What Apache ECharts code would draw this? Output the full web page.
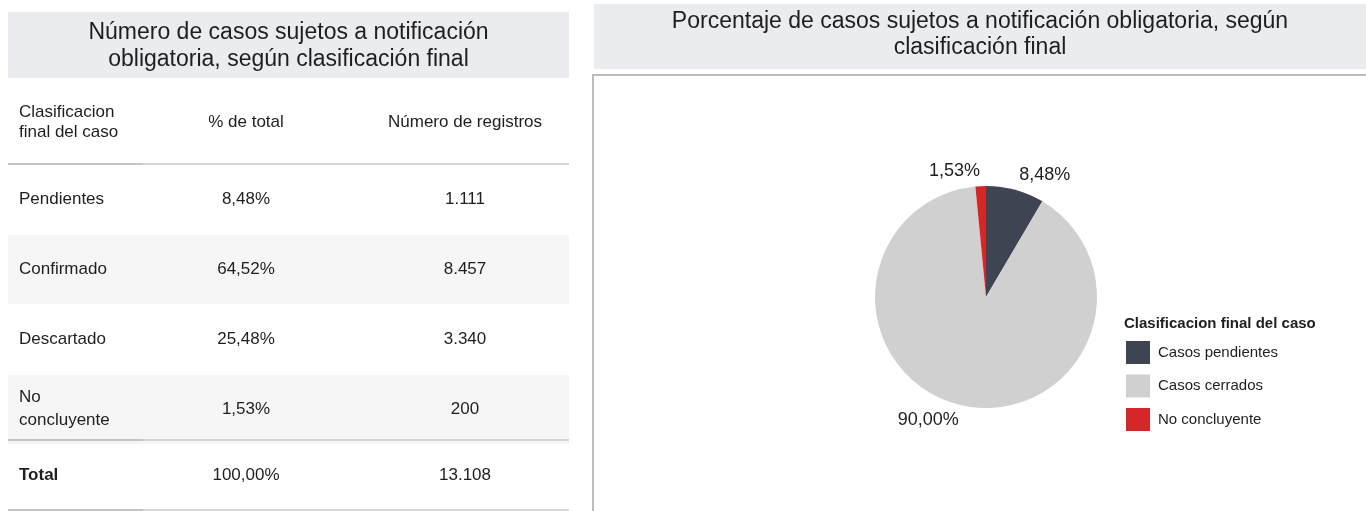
<!DOCTYPE html>
<html>
<head>
<meta charset="utf-8">
<script src="https://cdn.jsdelivr.net/npm/echarts@6/dist/echarts.min.js"></script>
<style>
  html, body { margin: 0; padding: 0; background: #fff; }
  #main { width: 1366px; height: 511px; }
</style>
</head>
<body>
<div id="main"></div>
<script>
// datos de la tabla y del grafico
var tableTitle = 'Número de casos sujetos a notificación\nobligatoria, según clasificación final';
var pieTitle = 'Porcentaje de casos sujetos a notificación obligatoria, según\nclasificación final';
var headers = ['Clasificacion\nfinal del caso', '% de total', 'Número de registros'];
var categories = ['Pendientes', 'Confirmado', 'Descartado', 'No\nconcluyente'];
var counts = [1111, 8457, 3340, 200];
var totalLabel = 'Total';
var legendTitle = 'Clasificacion final del caso';
var pieNames = ['Casos pendientes', 'Casos cerrados', 'No concluyente'];
// casos cerrados = confirmado + descartado
var pieValues = [counts[0], counts[1] + counts[2], counts[3]];
var pieColors = ['#3f4452', '#d0d0d0', '#d62728'];

var FONT = "'Liberation Sans', Arial, sans-serif";
var TXT = '#1e1e1e';

function fmtNum(n) {
    return String(n).replace(/\B(?=(\d{3})+(?!\d))/g, '.');
}
function fmtPct(p) {
    return p.toFixed(2).replace('.', ',') + '%';
}

var total = counts.reduce(function (a, b) { return a + b; }, 0);

var dom = document.getElementById('main');
var chart = echarts.init(dom);

// tabla izquierda
var tLeft = 8, tRight = 569;
var colX = [19, 246, 465];
var headTop = 78, headBottom = 164, rowH = 70;
var FS = 17;
var g = [];

function txt(text, x, y, size, align, bold, lh) {
    return {
        type: 'text',
        silent: true,
        style: {
            text: text, x: x, y: y,
            font: (bold ? 'bold ' : '') + size + 'px ' + FONT,
            fill: TXT,
            align: align, textAlign: align,
            verticalAlign: 'middle', textVerticalAlign: 'middle',
            lineHeight: lh || size + 4
        }
    };
}
function hline(x1, x2, y, color, w) {
    return {
        type: 'line', silent: true,
        shape: { x1: x1, y1: y, x2: x2, y2: y },
        style: { stroke: color, lineWidth: w || 2 }
    };
}

// caja del titulo izquierdo
g.push({ type: 'rect', silent: true, shape: { x: tLeft, y: 12, width: tRight - tLeft, height: 66 }, style: { fill: '#ebecf0' } });
g.push(txt(tableTitle, (tLeft + tRight) / 2, 46, 23, 'center', false, 27));

// cabecera
var headMid = (headTop + headBottom) / 2 + 1;
g.push(txt(headers[0], colX[0], headMid, FS, 'left', false, 20));
g.push(txt(headers[1], colX[1], headMid, FS, 'center'));
g.push(txt(headers[2], colX[2], headMid, FS, 'center'));

// filas
categories.forEach(function (c, i) {
    var top = headBottom + i * rowH;
    if (i % 2 === 1) {
        g.push({ type: 'rect', silent: true, shape: { x: tLeft, y: top + 1, width: tRight - tLeft, height: rowH - 1 }, style: { fill: '#f6f6f6' } });
    }
    var mid = top + rowH / 2;
    g.push(txt(c, colX[0], mid, FS, 'left', false, 23));
    g.push(txt(fmtPct(counts[i] / total * 100), colX[1], mid, FS, 'center'));
    g.push(txt(fmtNum(counts[i]), colX[2], mid, FS, 'center'));
});

// fila total
var totTop = headBottom + categories.length * rowH - 4;
var totMid = totTop + 35;
g.push(txt(totalLabel, colX[0], totMid, FS, 'left', true));
g.push(txt(fmtPct(100), colX[1], totMid, FS, 'center'));
g.push(txt(fmtNum(total), colX[2], totMid, FS, 'center'));

// lineas de la tabla
[headBottom, totTop, 510].forEach(function (y) {
    g.push(hline(tLeft, 143, y, '#c4c4c4'));
    g.push(hline(143, tRight, y, '#d6d6d6'));
});

// panel derecho
g.push({ type: 'rect', silent: true, shape: { x: 594, y: 4, width: 772, height: 65 }, style: { fill: '#ebecf0' } });
g.push(txt(pieTitle, 980, 35, 23, 'center', false, 26));
g.push(hline(593, 1366, 75, '#bdbdbd'));
g.push({ type: 'line', silent: true, shape: { x1: 593, y1: 74, x2: 593, y2: 511 }, style: { stroke: '#bdbdbd', lineWidth: 2 } });
g.push(txt(legendTitle, 1124, 324, 15, 'left', true));

var option = {
    animation: false,
    graphic: g,
    legend: {
        orient: 'vertical',
        left: 1121,
        top: 336,
        icon: 'rect',
        itemWidth: 24,
        itemHeight: 23,
        itemGap: 10.5,
        selectedMode: false,
        data: pieNames,
        textStyle: { fontFamily: FONT, fontSize: 15, color: TXT, padding: [0, 0, 0, 3] }
    },
    series: [{
        type: 'pie',
        center: [986, 297],
        radius: 111,
        startAngle: 90,
        clockwise: true,
        silent: true,
        avoidLabelOverlap: false,
        itemStyle: { borderWidth: 0 },
        label: {
            show: true,
            position: 'outside',
            distanceToLabelLine: 0,
            fontFamily: FONT,
            fontSize: 18,
            color: TXT,
            formatter: function (p) {
                return fmtPct(p.value / total * 100);
            }
        },
        labelLine: { show: false, length: 15, length2: 0 },
        data: pieNames.map(function (n, i) {
            return { name: n, value: pieValues[i], itemStyle: { color: pieColors[i] } };
        })
    }]
};
chart.setOption(option);
</script>
</body>
</html>
